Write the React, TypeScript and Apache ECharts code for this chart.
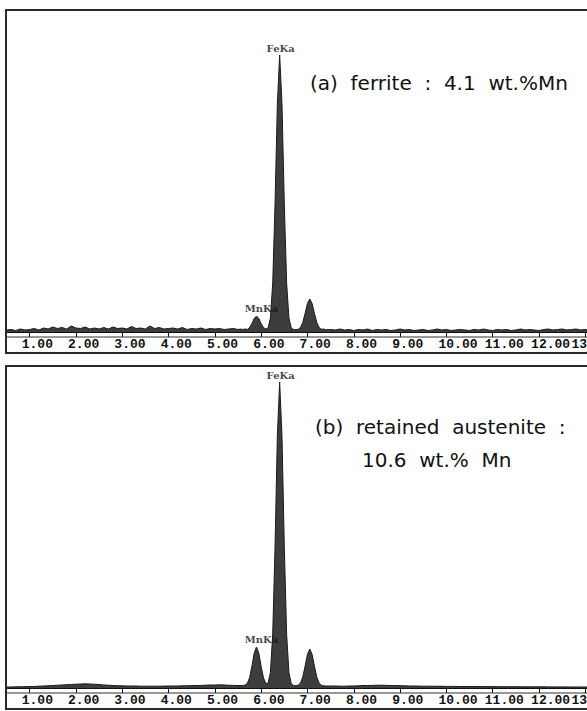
import React, { useEffect, useRef } from "react";
import * as echarts from "echarts";

// Energy (keV) sampling points shared by both spectra
const energies = [
  0.5, 0.6, 0.7, 0.8, 0.9, 1.0, 1.1, 1.2, 1.3, 1.4, 1.5, 1.6, 1.7, 1.8, 1.9, 2.0, 2.1, 2.2, 2.3, 2.4, 2.5,
  2.6, 2.7, 2.8, 2.9, 3.0, 3.1, 3.2, 3.3, 3.4, 3.5, 3.6, 3.7, 3.8, 3.9, 4.0, 4.1, 4.2, 4.3, 4.4, 4.5,
  4.6, 4.7, 4.8, 4.9, 5.0, 5.1, 5.2, 5.3, 5.4, 5.5,
  5.55, 5.6, 5.65, 5.7, 5.75, 5.8, 5.85, 5.9, 5.95, 6.0, 6.05, 6.1, 6.15, 6.2, 6.25, 6.3, 6.35, 6.4, 6.45, 6.5,
  6.55, 6.6, 6.65, 6.7, 6.75, 6.8, 6.85, 6.9, 6.95, 7.0, 7.05, 7.1, 7.15, 7.2, 7.25, 7.3, 7.35, 7.4, 7.45,
  7.5, 7.6, 7.7, 7.8, 7.9, 8.0, 8.1, 8.2, 8.3, 8.4, 8.5, 8.6, 8.7, 8.8, 8.9, 9.0, 9.1, 9.2, 9.3, 9.4, 9.5,
  9.6, 9.7, 9.8, 9.9, 10.0, 10.1, 10.2, 10.3, 10.4, 10.5, 10.6, 10.7, 10.8, 10.9, 11.0, 11.1, 11.2, 11.3,
  11.4, 11.5, 11.6, 11.7, 11.8, 11.9, 12.0, 12.1, 12.2, 12.3, 12.4, 12.5, 12.6, 12.7, 12.8, 12.9, 13.0, 13.1,
];

// (a) ferrite spectrum counts
const ferriteCounts = [
  2, 2.5, 1.5, 3, 2, 2.5, 3.5, 2, 4, 3, 5, 3.5, 4.5, 3, 6, 4, 3.5, 5, 3, 4, 3,
  4.5, 3, 5, 3.5, 4, 3, 5.5, 3.5, 4, 3, 6, 3.5, 4.5, 3, 3.5, 4, 3, 4.5, 2.5, 3.5,
  3, 4, 2.5, 3.5, 3, 3.5, 2.5, 3, 3.5, 2.5,
  3, 2.5, 3, 2.6, 4.4, 8.4, 13.5, 16, 13.5, 8.4, 4.4, 3, 4, 14, 49, 128, 228, 277, 228, 128,
  49, 14, 4, 2.5, 2.3, 2.7, 4.6, 9.7, 18.7, 28.6, 33, 28.6, 18.7, 9.7, 4.6, 2.7, 3, 2, 2.5,
  2.5, 2, 3, 2, 2.5, 1.5, 2.5, 2, 3, 1.5, 2.5, 2, 2.5, 1.5, 2, 3, 2, 2.5, 1.5, 2, 2.5,
  1.5, 2, 3, 2, 2.5, 1.5, 2, 2.5, 2, 1.5, 2.5, 2, 3, 2, 1.5, 2.5, 2, 2.5,
  1.5, 2, 3, 2, 2.5, 2, 1.5, 2.5, 3, 2, 2.5, 3, 2, 2.5, 3, 2, 2.5, 2,
];

// (b) retained austenite spectrum counts
const austeniteCounts = [
  1, 1, 1.2, 1.2, 1.3, 1.5, 1.5, 1.8, 2, 2.2, 2.5, 2.8, 3, 3.3, 3.5, 3.8, 4, 4.2, 4, 3.8, 3.5,
  3, 2.8, 2.5, 2.3, 2.2, 2, 2, 2, 1.8, 1.8, 1.8, 1.8, 1.8, 1.9, 2, 2, 2, 2.2, 2.2, 2.4,
  2.5, 2.6, 2.8, 3, 3, 3.2, 3, 2.8, 2.6, 2.5,
  2.5, 2.5, 2.8, 4.5, 10.2, 21.5, 34.8, 41, 34.8, 21.5, 10.2, 4.5, 4.8, 15.4, 54, 141, 252, 306, 252, 141,
  54, 15.4, 4.3, 2.4, 2.3, 2.8, 5.1, 11.2, 21.9, 33.7, 39, 33.7, 21.9, 11.2, 5.1, 2.8, 2.2, 2, 2,
  2, 2, 1.8, 1.8, 2, 2, 2.2, 2.5, 2.5, 2.6, 2.8, 2.8, 2.6, 2.5, 2.5, 2.3, 2.2, 2, 2, 1.9, 1.8,
  1.8, 1.8, 1.7, 1.7, 1.6, 1.6, 1.6, 1.5, 1.5, 1.5, 1.5, 1.4, 1.4, 1.4, 1.4, 1.3, 1.3, 1.3,
  1.3, 1.3, 1.2, 1.2, 1.2, 1.2, 1.2, 1.2, 1.1, 1.1, 1.1, 1.1, 1.1, 1.0, 1.0, 1.0, 1.0, 1.0,
];

const tickValues = [1, 2, 3, 4, 5, 6, 7, 8, 9, 10, 11, 12, 13];
const peakNames = ["MnKa", "FeKa"];
const peakEnergies = [5.9, 6.4];
const panelTitles = [
  ["(a)  ferrite  :  4.1  wt.%Mn"],
  ["(b)  retained  austenite  :", "10.6  wt.%  Mn"],
];

const LABEL_SHIFT = 0.17;
const LAST_LABEL_SHIFT = 0.3;
const X_MIN = 0.49;
const X_MAX = 13.037;
const Y_MAX = 322;

function makeXAxis(gridIndex: number) {
  const last = tickValues[tickValues.length - 1];
  return {
    type: "value",
    gridIndex,
    min: X_MIN,
    max: X_MAX,
    splitLine: { show: false },
    axisLine: { show: true, onZero: false, lineStyle: { color: "#111", width: 1 } },
    axisTick: {
      show: true,
      customValues: tickValues,
      length: 5,
      inside: false,
      lineStyle: { color: "#111", width: 1 },
    },
    axisLabel: {
      show: true,
      customValues: tickValues.map((t) => (t === last ? t - LAST_LABEL_SHIFT : t - LABEL_SHIFT)),
      formatter: (v: number) => {
        const n = Math.round(v + LABEL_SHIFT);
        return n === last ? String(n) : n.toFixed(2);
      },
      align: "left",
      margin: 6,
      fontFamily: "Liberation Mono",
      fontWeight: "bold",
      fontSize: 13,
      color: "#111",
    },
  };
}

function peakSeries(counts: number[], idx: number) {
  return {
    type: "scatter",
    xAxisIndex: idx,
    yAxisIndex: idx,
    symbol: "circle",
    symbolSize: 1,
    itemStyle: { color: "rgba(0,0,0,0)" },
    z: 5,
    data: peakNames.map((name, i) => {
      const e = peakEnergies[i];
      const k = energies.indexOf(e);
      return {
        name,
        value: [e, counts[k]],
        label: {
          show: true,
          formatter: "{b}",
          position: "top",
          distance: name === "FeKa" ? 1 : 2,
          offset: name === "FeKa" ? [1, 0] : [5, 0],
          fontFamily: "DejaVu Serif",
          fontWeight: "bold",
          fontSize: 10,
          color: "#111",
        },
      };
    }),
  };
}

function spectrumSeries(counts: number[], idx: number) {
  return {
    type: "line",
    xAxisIndex: idx,
    yAxisIndex: idx,
    showSymbol: false,
    symbol: "none",
    lineStyle: { color: "#1a1a1a", width: 1 },
    areaStyle: { color: "#3d3d3d", opacity: 1 },
    data: energies.map((e, i) => [e, counts[i]]),
    z: 3,
  };
}

const panelTops = [10, 366];

export default function App() {
  const ref = useRef<HTMLDivElement>(null);

  useEffect(() => {
    const chart = echarts.init(ref.current!, null, { renderer: "svg" });
    const graphics: any[] = [];
    panelTops.forEach((top) => {
      graphics.push({
        type: "rect",
        z: 10,
        shape: { x: 6, y: top, width: 640, height: 343 },
        style: { fill: "none", stroke: "#2a2a2a", lineWidth: 2 },
      });
      graphics.push({
        type: "line",
        z: 10,
        shape: { x1: 6, y1: top + 327, x2: 587, y2: top + 327 },
        style: { stroke: "#333", lineWidth: 1 },
      });
    });
    const titleStyle = { fontFamily: "DejaVu Sans", fontSize: 20, fill: "#111", verticalAlign: "middle" };
    graphics.push({ type: "text", x: 310, y: 83, z: 10, style: { ...titleStyle, text: panelTitles[0][0] } });
    graphics.push({ type: "text", x: 315, y: 427, z: 10, style: { ...titleStyle, text: panelTitles[1][0] } });
    graphics.push({ type: "text", x: 362, y: 460, z: 10, style: { ...titleStyle, text: panelTitles[1][1] } });

    chart.setOption({
      animation: false,
      backgroundColor: "#fff",
      grid: [
        { left: 6, top: 10, width: 581, height: Y_MAX, containLabel: false, outerBoundsMode: "none" },
        { left: 6, top: 366, width: 581, height: Y_MAX, containLabel: false, outerBoundsMode: "none" },
      ],
      xAxis: [makeXAxis(0), makeXAxis(1)],
      yAxis: [
        { type: "value", gridIndex: 0, min: 0, max: Y_MAX, show: false },
        { type: "value", gridIndex: 1, min: 0, max: Y_MAX, show: false },
      ],
      series: [
        spectrumSeries(ferriteCounts, 0),
        spectrumSeries(austeniteCounts, 1),
        peakSeries(ferriteCounts, 0),
        peakSeries(austeniteCounts, 1),
      ],
      graphic: graphics,
    });
    return () => chart.dispose();
  }, []);

  return (
    <div
      ref={ref}
      style={{ position: "absolute", left: 0, top: 0, width: 587, height: 711, background: "#fff" }}
    />
  );
}
